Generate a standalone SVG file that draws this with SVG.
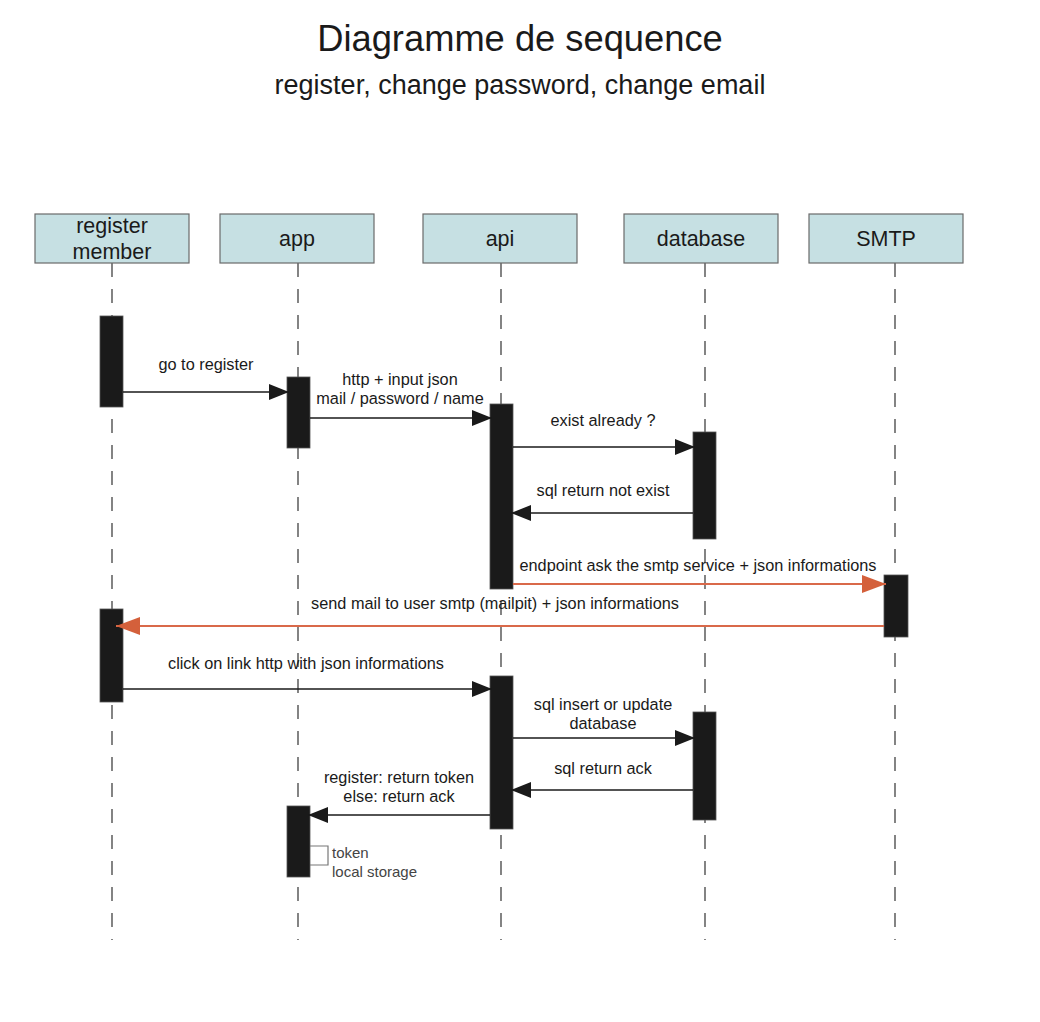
<svg xmlns="http://www.w3.org/2000/svg" width="1040" height="1022" viewBox="0 0 1040 1022">
<style>
.t{font-family:"Liberation Sans",Arial,sans-serif;fill:#1a1a1a;text-anchor:middle}
.title{font-size:36.3px}
.sub{font-size:27px}
.node{fill:#c6e0e3;stroke:#6a6a6a;stroke-width:1.2}
.nl{font-size:21.5px}
.ml{font-size:16.3px}
.life{stroke:#333;stroke-width:1.2;stroke-dasharray:14 12;fill:none}
.act{fill:#1a1a1a;stroke:#555;stroke-width:0.8}
.msg{stroke:#1a1a1a;stroke-width:1.5;fill:none}
.omsg{stroke:#d9694a;stroke-width:1.8;fill:none}
.note{font-family:"Liberation Sans",Arial,sans-serif;font-size:15px;fill:#444;font-weight:300}
</style>
<defs>
<marker id="ah" viewBox="0 0 20 16" refX="20" refY="8" markerWidth="20" markerHeight="16" markerUnits="userSpaceOnUse" orient="auto">
<path d="M0,0 L20,8 L0,16 Z" fill="#1a1a1a"/>
</marker>
<marker id="oh" viewBox="0 0 24 18" refX="24" refY="9" markerWidth="24" markerHeight="18" markerUnits="userSpaceOnUse" orient="auto">
<path d="M0,0 L24,9 L0,18 Z" fill="#d4603b"/>
</marker>
</defs>
<rect width="1040" height="1022" fill="#fff"/>
<text class="t title" x="520" y="51">Diagramme de sequence</text>
<text class="t sub" x="520" y="94">register, change password, change email</text>

<g id="lifelines">
<line class="life" x1="112" y1="263" x2="112" y2="940"/>
<line class="life" x1="298" y1="263" x2="298" y2="940"/>
<line class="life" x1="501" y1="263" x2="501" y2="940"/>
<line class="life" x1="705" y1="263" x2="705" y2="940"/>
<line class="life" x1="895" y1="263" x2="895" y2="940"/>
</g>

<g id="register-member">
<rect class="node" x="35" y="214" width="154" height="49"/>
<text class="t nl" x="112" y="233">register</text>
<text class="t nl" x="112" y="259">member</text>
</g>
<g id="app">
<rect class="node" x="220" y="214" width="154" height="49"/>
<text class="t nl" x="297" y="246">app</text>
</g>
<g id="api">
<rect class="node" x="423" y="214" width="154" height="49"/>
<text class="t nl" x="500" y="246">api</text>
</g>
<g id="database">
<rect class="node" x="624" y="214" width="154" height="49"/>
<text class="t nl" x="701" y="246">database</text>
</g>
<g id="smtp">
<rect class="node" x="809" y="214" width="154" height="49"/>
<text class="t nl" x="886" y="246">SMTP</text>
</g>

<g id="activations">
<rect class="act" x="100" y="316" width="23" height="91"/>
<rect class="act" x="287" y="377" width="23" height="71"/>
<rect class="act" x="490" y="404" width="23" height="185"/>
<rect class="act" x="693" y="432" width="23" height="107"/>
<rect class="act" x="884" y="575" width="24" height="62"/>
<rect class="act" x="100" y="609" width="23" height="93"/>
<rect class="act" x="490" y="676" width="23" height="153"/>
<rect class="act" x="693" y="712" width="23" height="108"/>
<rect class="act" x="287" y="806" width="23" height="71"/>
</g>

<g id="connectors">
<line class="msg" x1="123" y1="392" x2="289" y2="392" marker-end="url(#ah)"/>
<line class="msg" x1="310" y1="418" x2="492" y2="418" marker-end="url(#ah)"/>
<line class="msg" x1="513" y1="447" x2="695" y2="447" marker-end="url(#ah)"/>
<line class="msg" x1="693" y1="513" x2="511" y2="513" marker-end="url(#ah)"/>
<line class="omsg" x1="513" y1="584" x2="886" y2="584" marker-end="url(#oh)"/>
<line class="omsg" x1="884" y1="626" x2="116" y2="626" marker-end="url(#oh)"/>
<line class="msg" x1="123" y1="689" x2="492" y2="689" marker-end="url(#ah)"/>
<line class="msg" x1="513" y1="738" x2="695" y2="738" marker-end="url(#ah)"/>
<line class="msg" x1="693" y1="790" x2="511" y2="790" marker-end="url(#ah)"/>
<line class="msg" x1="490" y1="815" x2="308" y2="815" marker-end="url(#ah)"/>
<path d="M310,846 H328 V865 H310" fill="none" stroke="#777" stroke-width="1.2"/>
</g>

<g id="labels">
<text class="t ml" x="206" y="370">go to register</text>
<text class="t ml" x="400" y="385">http + input json</text>
<text class="t ml" x="400" y="404">mail / password / name</text>
<text class="t ml" x="603" y="426">exist already ?</text>
<text class="t ml" x="603" y="496">sql return not exist</text>
<text class="t ml" x="698" y="571">endpoint ask the smtp service + json informations</text>
<text class="t ml" x="495" y="609">send mail to user smtp (mailpit) + json informations</text>
<text class="t ml" x="306" y="669">click on link http with json informations</text>
<text class="t ml" x="603" y="710">sql insert or update</text>
<text class="t ml" x="603" y="729">database</text>
<text class="t ml" x="603" y="774">sql return ack</text>
<text class="t ml" x="399" y="783">register: return token</text>
<text class="t ml" x="399" y="802">else: return ack</text>
<text class="note" x="332" y="858">token</text>
<text class="note" x="332" y="877">local storage</text>
</g>
</svg>
